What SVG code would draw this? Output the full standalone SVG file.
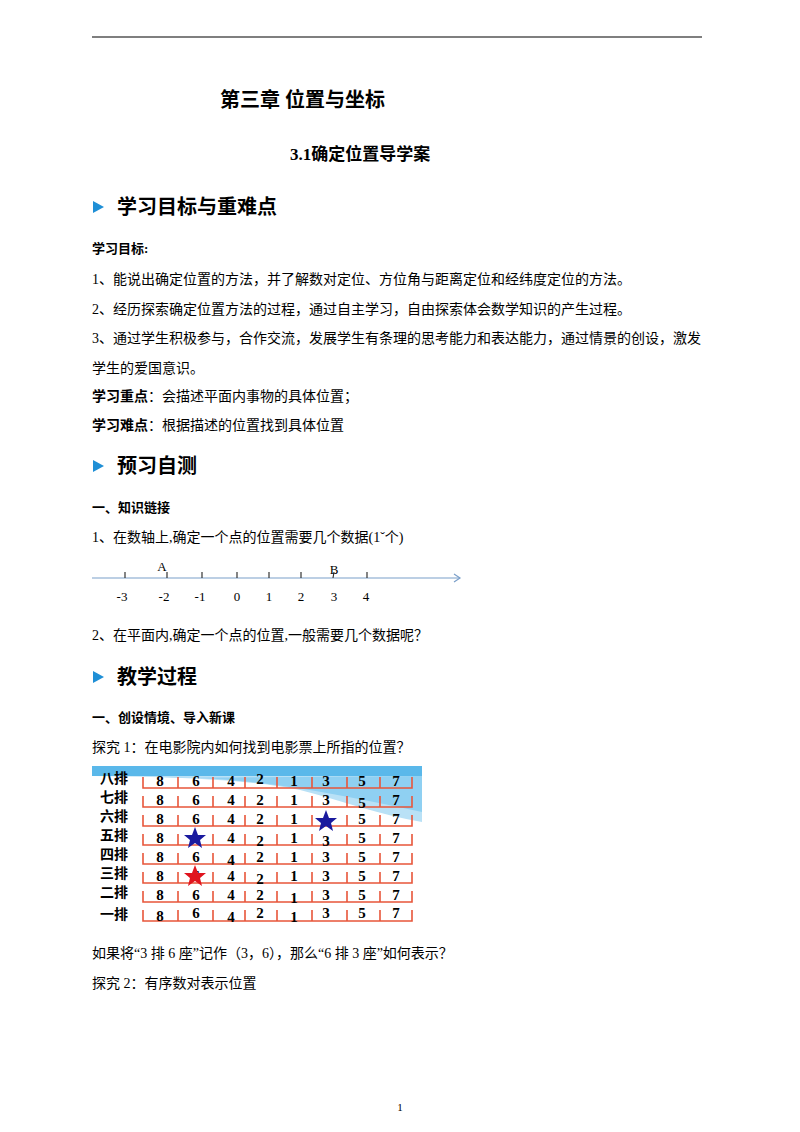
<svg xmlns="http://www.w3.org/2000/svg" width="800" height="1132" viewBox="0 0 800 1132">
<style>
text{font-family:"Liberation Serif","Noto Sans CJK SC",serif;fill:#000}
.b{font-size:14px}
.h{font-size:20px;font-weight:bold}
.bb{font-size:13px;font-weight:bold}
.nl{font-family:"DejaVu Sans",sans-serif;font-size:13px;fill:#222}
.sn{font-size:15px;font-weight:bold;text-anchor:middle}
.rl{font-size:14px;font-weight:bold;font-family:"Noto Sans CJK SC",sans-serif}
.tri{fill:#1f8fd6}
.sl{stroke:#e8553a;stroke-width:1.6;fill:none}
</style>
<rect width="800" height="1132" fill="#fff"/>
<line x1="92" y1="37" x2="702" y2="37" stroke="#000" stroke-width="1.2"/>
<text x="220" y="107" style="font-size:20px;font-weight:bold">第三章  位置与坐标</text>
<text x="290" y="160" style="font-size:17px;font-weight:bold">3.1确定位置导学案</text>
<g id="sec1"><polygon class="tri" points="93,201 93,213 104,207"/><text x="117" y="214" class="h">学习目标与重难点</text></g>
<text x="92" y="253" class="bb">学习目标:</text>
<text x="92" y="284" class="b">1、能说出确定位置的方法，并了解数对定位、方位角与距离定位和经纬度定位的方法。</text>
<text x="92" y="314" class="b">2、经历探索确定位置方法的过程，通过自主学习，自由探索体会数学知识的产生过程。</text>
<text x="92" y="343" class="b">3、通过学生积极参与，合作交流，发展学生有条理的思考能力和表达能力，通过情景的创设，激发</text>
<text x="92" y="373" class="b">学生的爱国意识。</text>
<text x="92" y="401" class="b"><tspan font-weight="bold">学习重点</tspan>：会描述平面内事物的具体位置；</text>
<text x="92" y="430" class="b"><tspan font-weight="bold">学习难点</tspan>：根据描述的位置找到具体位置</text>
<g id="sec2"><polygon class="tri" points="93,460 93,472 104,466"/><text x="117" y="473" class="h">预习自测</text></g>
<text x="92" y="512" class="bb">一、知识链接</text>
<text x="92" y="542" class="b">1、在数轴上,确定一个点的位置需要几个数据(1ˇ个)</text>
<g id="numberline" stroke="#7a9fc9" stroke-width="1.2" fill="none">
<line x1="92" y1="578" x2="460" y2="578"/>
<polyline points="454,574 460,578 454,582"/>
<g stroke="#333"><line x1="125" y1="572" x2="125" y2="578"/><line x1="167" y1="572" x2="167" y2="578"/><line x1="202" y1="572" x2="202" y2="578"/><line x1="237" y1="572" x2="237" y2="578"/><line x1="269" y1="572" x2="269" y2="578"/><line x1="301" y1="572" x2="301" y2="578"/><line x1="334" y1="572" x2="333" y2="578"/><line x1="367" y1="572" x2="367" y2="578"/></g>
</g>
<g class="nl" text-anchor="middle"><text x="162" y="571">A</text><text x="334" y="574">B</text>
<text x="122" y="601">-3</text><text x="164" y="601">-2</text><text x="200" y="601">-1</text><text x="237" y="601">0</text><text x="269" y="601">1</text><text x="301" y="601">2</text><text x="334" y="601">3</text><text x="366" y="601">4</text></g>
<text x="92" y="640" class="b">2、在平面内,确定一个点的位置,一般需要几个数据呢？</text>
<g id="sec3"><polygon class="tri" points="93,671 93,683 104,677"/><text x="117" y="684" class="h">教学过程</text></g>
<text x="92" y="722" class="bb">一、创设情境、导入新课</text>
<text x="92" y="752" class="b">探究 1：在电影院内如何找到电影票上所指的位置？</text>
<g id="seatchart">
<rect x="92" y="766" width="330" height="10" fill="#5ab8ea"/>
<path d="M92,776 L422,776 L422,822 C380,815 340,800 300,790 C250,780 200,779 160,777 Z" fill="#b9e1f6"/>
<path d="M150,778 C230,774 320,790 422,812 L422,776 Z" fill="#8fd0f2"/>
<g id="rows" class="sl">
<path d="M143,777v11h269v-11M178,777v11M213,777v11M245,777v11M277,777v11M312,777v11M347,777v11M380,777v11"/>
<path d="M143,796v11h269v-11M178,796v11M213,796v11M245,796v11M277,796v11M312,796v11M347,796v11M380,796v11"/>
<path d="M143,815v11h269v-11M178,815v11M213,815v11M245,815v11M277,815v11M312,815v11M347,815v11M380,815v11"/>
<path d="M143,834v11h269v-11M178,834v11M213,834v11M245,834v11M277,834v11M312,834v11M347,834v11M380,834v11"/>
<path d="M143,853v11h269v-11M178,853v11M213,853v11M245,853v11M277,853v11M312,853v11M347,853v11M380,853v11"/>
<path d="M143,872v11h269v-11M178,872v11M213,872v11M245,872v11M277,872v11M312,872v11M347,872v11M380,872v11"/>
<path d="M143,891v11h269v-11M178,891v11M213,891v11M245,891v11M277,891v11M312,891v11M347,891v11M380,891v11"/>
<path d="M143,910v11h269v-11M178,910v11M213,910v11M245,910v11M277,910v11M312,910v11M347,910v11M380,910v11"/>
</g>
<g class="rl"><text x="100" y="783">八排</text><text x="100" y="802">七排</text><text x="100" y="821">六排</text><text x="100" y="840">五排</text><text x="100" y="859">四排</text><text x="100" y="878">三排</text><text x="100" y="897">二排</text><text x="100" y="919">一排</text></g>
<g class="sn">
<text y="786"><tspan x="160">8</tspan><tspan x="196">6</tspan><tspan x="231">4</tspan><tspan x="260" dy="-2">2</tspan><tspan x="294" dy="2">1</tspan><tspan x="326">3</tspan><tspan x="362">5</tspan><tspan x="396">7</tspan></text>
<text y="805"><tspan x="160">8</tspan><tspan x="196">6</tspan><tspan x="231">4</tspan><tspan x="260">2</tspan><tspan x="294">1</tspan><tspan x="326">3</tspan><tspan x="362" dy="3">5</tspan><tspan x="396" dy="-3">7</tspan></text>
<text y="824"><tspan x="160">8</tspan><tspan x="196">6</tspan><tspan x="231">4</tspan><tspan x="260">2</tspan><tspan x="294">1</tspan><tspan x="362">5</tspan><tspan x="396">7</tspan></text>
<text y="843"><tspan x="160">8</tspan><tspan x="231">4</tspan><tspan x="260" dy="3">2</tspan><tspan x="294" dy="-3">1</tspan><tspan x="326" dy="3">3</tspan><tspan x="362" dy="-3">5</tspan><tspan x="396">7</tspan></text>
<text y="862"><tspan x="160">8</tspan><tspan x="196">6</tspan><tspan x="231" dy="3">4</tspan><tspan x="260" dy="-3">2</tspan><tspan x="294">1</tspan><tspan x="326">3</tspan><tspan x="362">5</tspan><tspan x="396">7</tspan></text>
<text y="881"><tspan x="160">8</tspan><tspan x="196">6</tspan><tspan x="231">4</tspan><tspan x="260" dy="3">2</tspan><tspan x="294" dy="-3">1</tspan><tspan x="326">3</tspan><tspan x="362">5</tspan><tspan x="396">7</tspan></text>
<text y="900"><tspan x="160">8</tspan><tspan x="196">6</tspan><tspan x="231">4</tspan><tspan x="260">2</tspan><tspan x="294" dy="3">1</tspan><tspan x="326" dy="-3">3</tspan><tspan x="362">5</tspan><tspan x="396">7</tspan></text>
<text y="919"><tspan x="160" dy="2">8</tspan><tspan x="196" dy="-3">6</tspan><tspan x="231" dy="4">4</tspan><tspan x="260" dy="-4">2</tspan><tspan x="294" dy="4">1</tspan><tspan x="326" dy="-4">3</tspan><tspan x="362">5</tspan><tspan x="396">7</tspan></text>
</g>
<polygon fill="#1a1a9e" points="326,810 329,818 337,818 331,823 333,831 326,826 319,831 321,823 315,818 323,818"/>
<polygon fill="#1a1a9e" points="195,827 198,835 206,835 200,840 202,848 195,843 188,848 190,840 184,835 192,835"/>
<polygon fill="#e0141e" points="195,865 198,873 206,873 200,878 202,886 195,881 188,886 190,878 184,873 192,873"/>
</g>
<text x="92" y="958" class="b">如果将“3 排 6 座”记作（3，6），那么“6 排 3 座”如何表示？</text>
<text x="92" y="988" class="b">探究 2：有序数对表示位置</text>
<text x="400" y="1111" text-anchor="middle" style="font-size:11px">1</text>
</svg>
